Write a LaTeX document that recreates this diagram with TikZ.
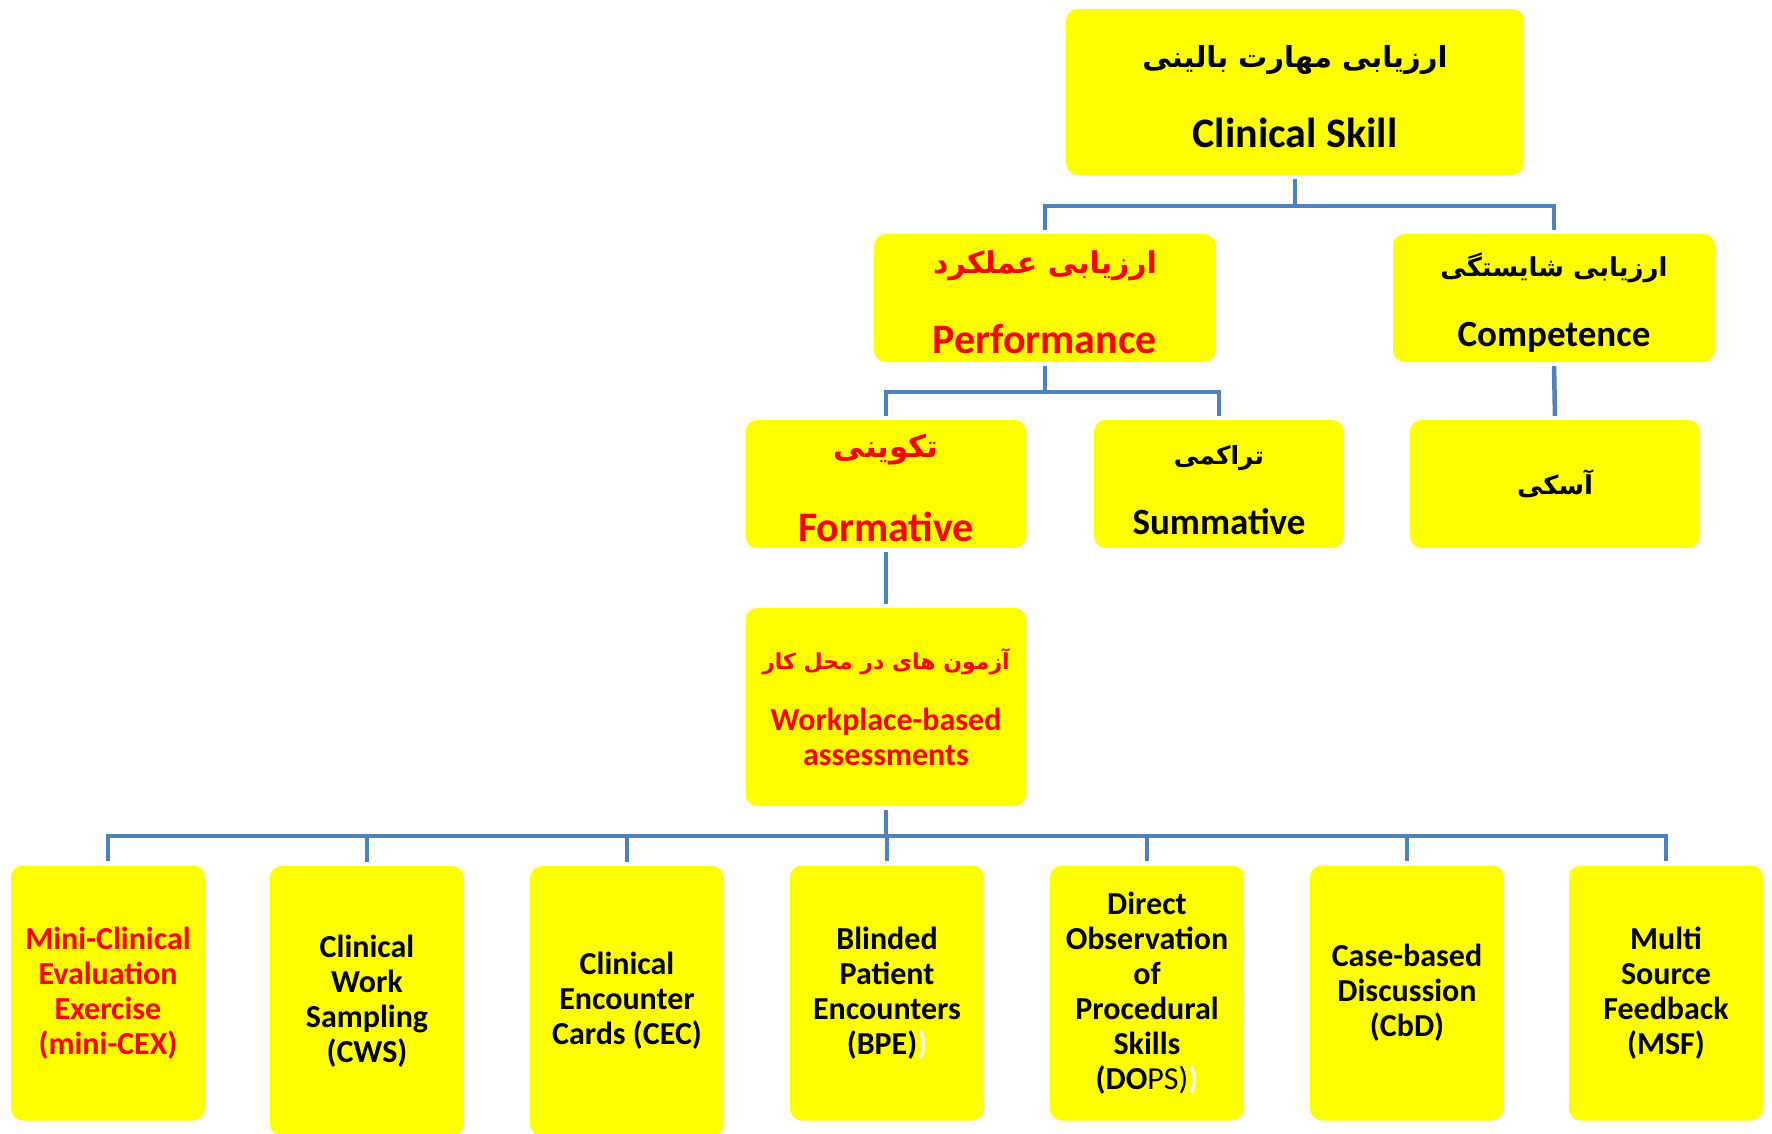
\documentclass[tikz,border=0pt]{standalone}
\usepackage{fontspec}
\setmainfont{Carlito}
\newfontfamily\fa[Script=Arabic]{DejaVu Sans}
\TeXXeTstate=1
\definecolor{boxyellow}{RGB}{255,255,0}
\definecolor{linkblue}{RGB}{79,129,189}
\begin{document}
\begin{tikzpicture}[x=1pt, y=-1pt,
    box/.style={fill=boxyellow, rounded corners=12pt, align=center, inner sep=0pt},
    conn/.style={draw=linkblue, line width=4.5pt, shorten <=4pt, shorten >=4pt},
    leaf/.style={box, minimum width=194, minimum height=255, font=\bfseries\fontsize{32}{35}\selectfont}]
    \path[use as bounding box, clip] (0,0) rectangle (1772,1134);
    \node[box, minimum width=458, minimum height=166, font=\bfseries\fontsize{42}{80}\selectfont] (clin) at (1295,92)
        {\rule{0pt}{31pt}{\fa\fontsize{29}{36}\selectfont\beginR ارزیابی مهارت بالینی\endR}\\Clinical Skill};
    \node[box, minimum width=342, minimum height=128, text=red, font=\bfseries\fontsize{42}{80}\selectfont] (perf) at (1045,298)
        {\rule{0pt}{31pt}{\fa\fontsize{30}{36}\selectfont\beginR ارزیابی عملکرد\endR}\\Performance};
    \node[box, minimum width=322, minimum height=128, font=\bfseries\fontsize{37}{70}\selectfont] (comp) at (1554,298)
        {\rule{0pt}{32pt}{\fa\fontsize{26}{32}\selectfont\beginR ارزیابی شایستگی\endR}\\Competence};
    \node[box, minimum width=281, minimum height=128, text=red, font=\bfseries\fontsize{42}{84}\selectfont] (form) at (886,484)
        {\rule{0pt}{31pt}{\fa\fontsize{31}{38}\selectfont\beginR تکوینی\endR}\\Formative};
    \node[box, minimum width=250, minimum height=128, font=\bfseries\fontsize{37}{70}\selectfont] (summ) at (1219,484)
        {\rule{0pt}{32pt}{\fa\fontsize{25}{30}\selectfont\beginR تراکمی\endR}\\Summative};
    \node[box, minimum width=290, minimum height=128, font=\bfseries\fa\fontsize{26}{32}\selectfont] (aski) at (1555,484)
        {\beginR آسکی\endR};
    \node[box, minimum width=281, minimum height=198, text=red, font=\bfseries\fontsize{32}{35}\selectfont] (wba) at (886,707)
        {{\fa\fontsize{22}{28}\selectfont\beginR آزمون های در محل کار\endR}\\[26pt]Workplace-based\\assessments};
    \node[leaf, text=red] (b1) at (108,993) {Mini-Clinical\\Evaluation\\Exercise\\(mini-CEX)};
    \node[leaf, minimum height=270] (b2) at (367,1001) {Clinical\\Work\\Sampling\\(CWS)};
    \node[leaf, minimum height=270] (b3) at (627,1001) {Clinical\\Encounter\\Cards (CEC)};
    \node[leaf] (b4) at (887,993) {Blinded\\Patient\\Encounters\\(BPE)\textcolor{white}{)}};
    \node[leaf] (b5) at (1147,993) {Direct\\Observation\\of\\Procedural\\Skills\\(DO{\mdseries PS)}\textcolor{white}{)}};
    \node[leaf] (b6) at (1407,993) {Case-based\\Discussion\\(CbD)};
    \node[leaf] (b7) at (1666,993) {Multi\\Source\\Feedback\\(MSF)};
    \draw[conn] (clin.south) -- ++(0,31) -| (perf.north);
    \draw[conn] (clin.south) -- ++(0,31) -| (comp.north);
    \draw[conn] (perf.south) -- ++(0,30) -| (form.north);
    \draw[conn] (perf.south) -- ++(0,30) -| (summ.north);
    \draw[conn] (comp.south) -- (aski.north);
    \draw[conn] (form.south) -- (wba.north);
    \foreach \i in {1,...,7}
        \draw[conn] (wba.south) -- ++(0,30) -| (b\i.north);
\end{tikzpicture}
\end{document}
